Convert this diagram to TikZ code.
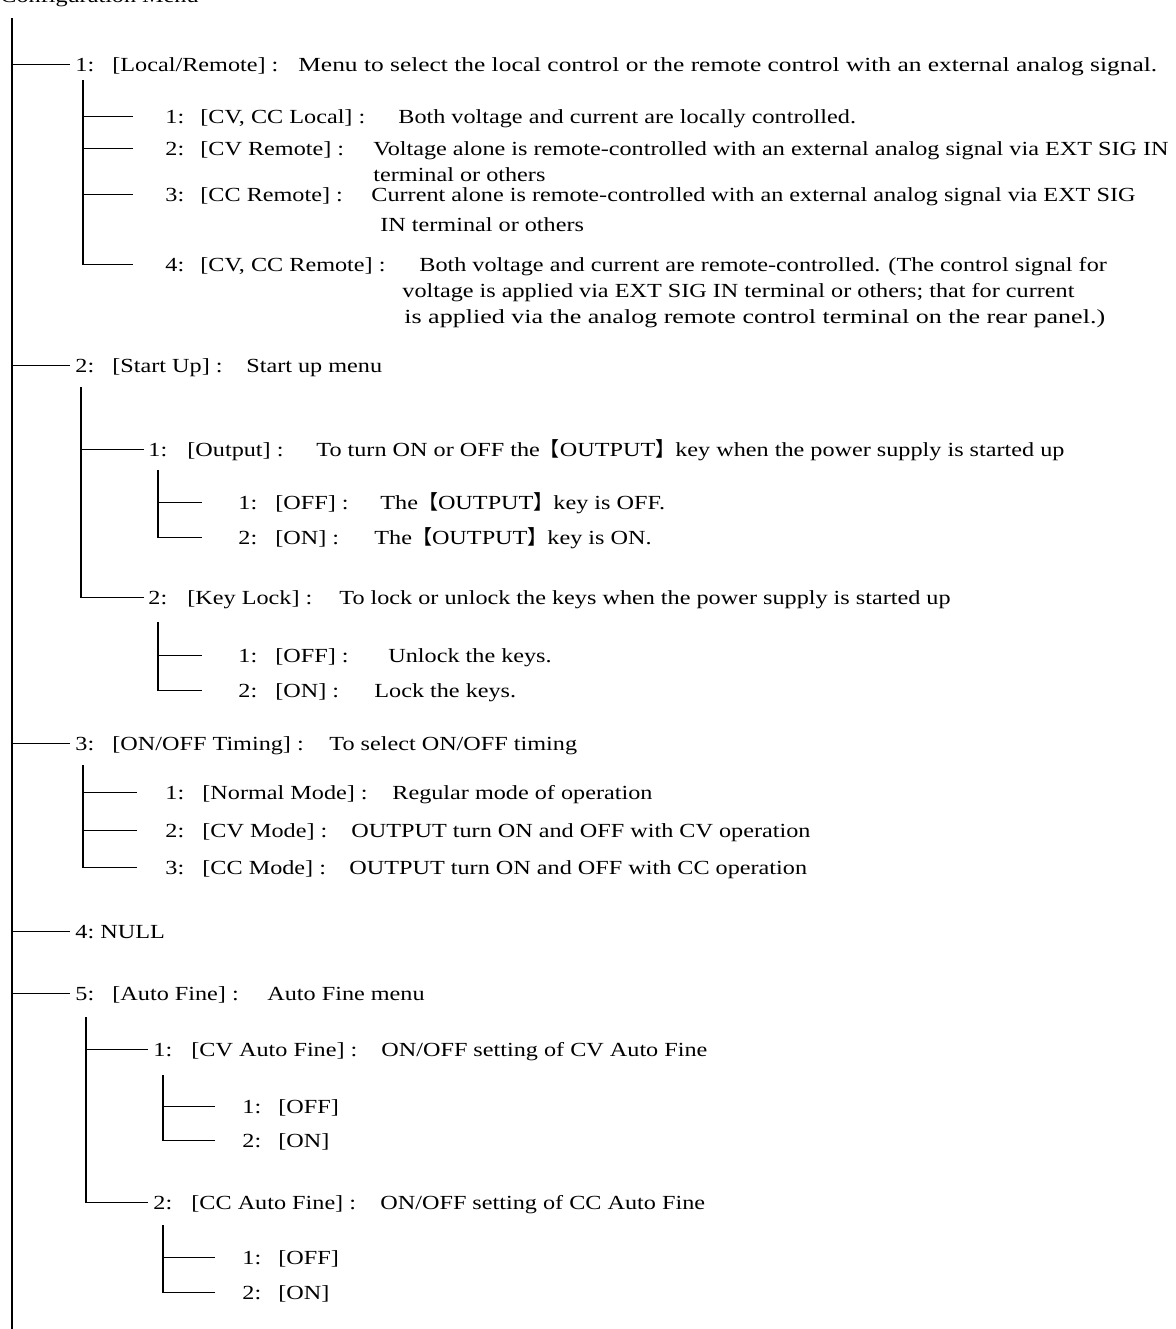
\documentclass[tikz,border=0pt]{standalone}
\usepackage{graphicx}
\usepackage{fontspec}
\setmainfont[FakeStretch=1.21]{Liberation Serif}
\newfontfamily\cjk{Noto Sans CJK JP}
\newcommand\lbk{{\cjk 【}}
\newcommand\rbk{{\cjk 】}}
\newcommand\ent[8]{%
 \node[txt] (#1n) at (#3,#2) {#4};
 \node[txt] (#1l) at (#5,#2) {#6};
 \node[txt] (#1d) at (#7,#2) {#8};}
\newcommand\entn[6]{%
 \node[txt] (#1n) at (#3,#2) {#4};
 \node[txt] (#1l) at (#5,#2) {#6};}
\newcommand\hl[3]{\draw[ln] (#1 |- #2n.west) -- ([xshift={-#3*0.5pt}]#2n.west);}
\newcommand\vl[2]{\draw[ln] (#1) -- (#1 |- #2n.west);}
\begin{document}
\begin{tikzpicture}[x=0.5pt,y=-0.5pt,
  txt/.style={anchor=base west,inner sep=0pt,font=\fontsize{10pt}{12pt}\selectfont},
  ln/.style={line width=0.6pt,black}]
\useasboundingbox (0,0) rectangle (1175,1329);
\clip (0,0) rectangle (1175,1329);
\node[txt] (title) at (0,2) {Configuration Menu};
\coordinate (v0) at (12,18);
\coordinate (vend) at (12,1329);
\draw[ln] (v0) -- (vend);
% 1
\ent{a1}{71}{75}{1:}{112}{[Local/Remote] :}{298}{\scalebox{1.05}[1]{Menu to select the local control or the remote control with an external analog signal.}}
\coordinate (v1) at (83,80);
\ent{b1}{123}{165}{1:}{200}{[CV, CC Local] :}{398}{Both voltage and current are locally controlled.}
\ent{b2}{155}{165}{2:}{200}{[CV Remote] :}{373}{Voltage alone is remote-controlled with an external analog signal via EXT SIG IN}
\node[txt] (b2c) at (373,181) {terminal or others};
\ent{b3}{201}{165}{3:}{200}{[CC Remote] :}{371}{Current alone is remote-controlled with an external analog signal via EXT SIG}
\node[txt] (b3c) at (380,231) {IN terminal or others};
\ent{b4}{271}{165}{4:}{200}{[CV, CC Remote] :}{419}{Both voltage and current are remote-controlled. (The control signal for}
\node[txt] (b4c1) at (402,297) {voltage is applied via EXT SIG IN terminal or others; that for current};
\node[txt] (b4c2) at (404,323) {\scalebox{1.075}[1]{is applied via the analog remote control terminal on the rear panel.)}};
\hl{v0}{a1}{5}
\vl{v1}{b4}
\hl{v1}{b1}{32}\hl{v1}{b2}{32}\hl{v1}{b3}{32}\hl{v1}{b4}{32}
% 2
\ent{a2}{372}{75}{2:}{112}{[Start Up] :}{246}{Start up menu}
\coordinate (v2) at (81,387);
\ent{c1}{456}{148}{1:}{187}{[Output] :}{316}{To turn ON or OFF the\lbk{}OUTPUT\rbk{}key when the power supply is started up}
\coordinate (v21) at (158,470);
\ent{d1}{509}{238}{1:}{275}{[OFF] :}{380}{The\lbk{}OUTPUT\rbk{}key is OFF.}
\ent{d2}{544}{238}{2:}{275}{[ON] :}{374}{The\lbk{}OUTPUT\rbk{}key is ON.}
\ent{c2}{604}{148}{2:}{187}{[Key Lock] :}{339}{To lock or unlock the keys when the power supply is started up}
\coordinate (v22) at (158,622);
\ent{e1}{662}{238}{1:}{275}{[OFF] :}{388}{Unlock the keys.}
\ent{e2}{697}{238}{2:}{275}{[ON] :}{374}{Lock the keys.}
\hl{v0}{a2}{5}
\vl{v2}{c2}
\hl{v2}{c1}{4}\hl{v2}{c2}{4}
\vl{v21}{d2}
\hl{v21}{d1}{36}\hl{v21}{d2}{36}
\vl{v22}{e2}
\hl{v22}{e1}{36}\hl{v22}{e2}{36}
% 3
\ent{a3}{750}{75}{3:}{112}{[ON/OFF Timing] :}{329}{To select ON/OFF timing}
\coordinate (v3) at (83,765);
\ent{f1}{799}{165}{1:}{202}{[Normal Mode] :}{392}{Regular mode of operation}
\ent{f2}{837}{165}{2:}{202}{[CV Mode] :}{351}{OUTPUT turn ON and OFF with CV operation}
\ent{f3}{874}{165}{3:}{202}{[CC Mode] :}{349}{OUTPUT turn ON and OFF with CC operation}
\hl{v0}{a3}{5}
\vl{v3}{f3}
\hl{v3}{f1}{28}\hl{v3}{f2}{28}\hl{v3}{f3}{28}
% 4
\entn{a4}{938}{75}{4:}{100}{NULL}
\hl{v0}{a4}{5}
% 5
\ent{a5}{1000}{75}{5:}{112}{[Auto Fine] :}{267}{Auto Fine menu}
\coordinate (v5) at (86,1017);
\ent{g1}{1056}{153}{1:}{191}{[CV Auto Fine] :}{381}{ON/OFF setting of CV Auto Fine}
\coordinate (v51) at (163,1075);
\entn{h1}{1113}{242}{1:}{278}{[OFF]}
\entn{h2}{1147}{242}{2:}{278}{[ON]}
\ent{g2}{1209}{153}{2:}{191}{[CC Auto Fine] :}{380}{ON/OFF setting of CC Auto Fine}
\coordinate (v52) at (163,1225);
\entn{i1}{1264}{242}{1:}{278}{[OFF]}
\entn{i2}{1299}{242}{2:}{278}{[ON]}
\hl{v0}{a5}{5}
\vl{v5}{g2}
\hl{v5}{g1}{5}\hl{v5}{g2}{5}
\vl{v51}{h2}
\hl{v51}{h1}{27}\hl{v51}{h2}{27}
\vl{v52}{i2}
\hl{v52}{i1}{27}\hl{v52}{i2}{27}
\end{tikzpicture}
\end{document}
